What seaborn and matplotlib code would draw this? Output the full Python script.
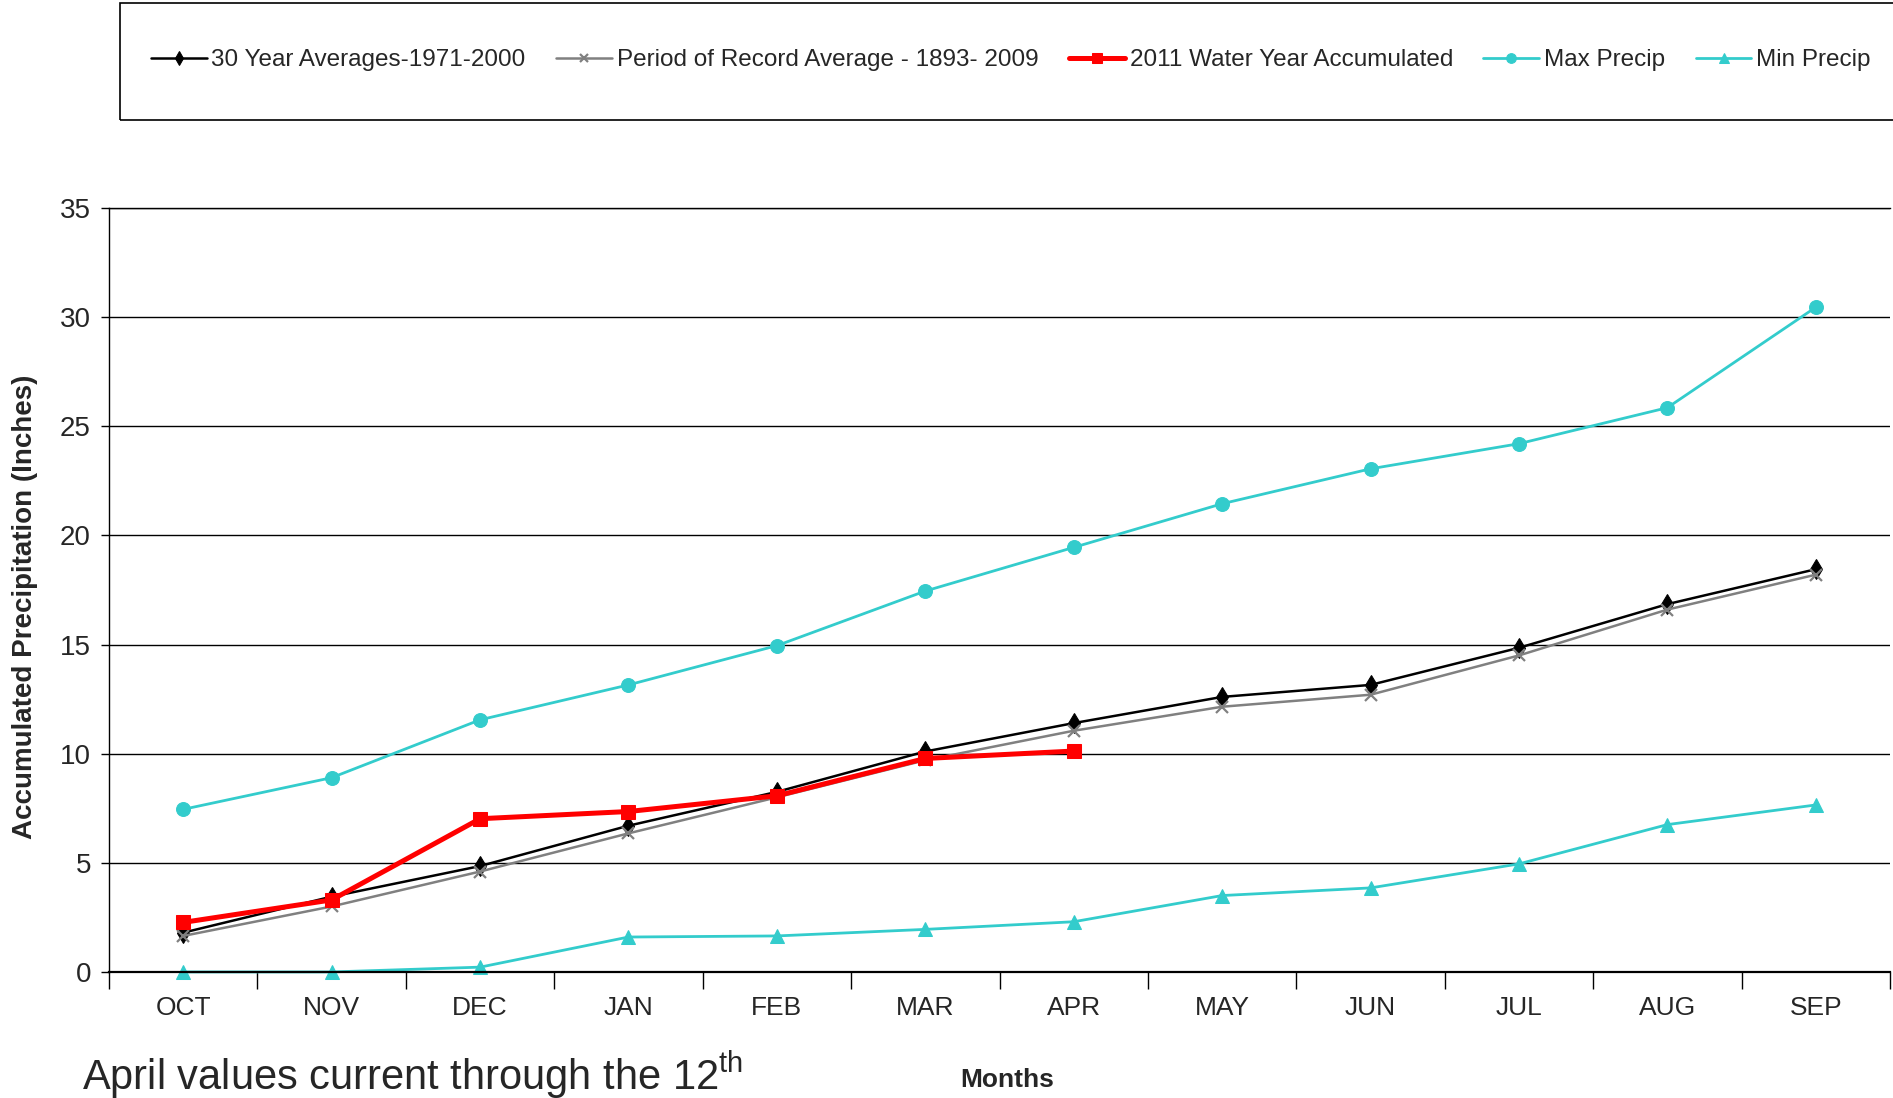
import matplotlib
matplotlib.use('Agg')
import matplotlib.pyplot as plt
from matplotlib import font_manager
from matplotlib.patches import Rectangle
import pandas as pd
import seaborn as sns

# Months of the water year
months = ['OCT', 'NOV', 'DEC', 'JAN', 'FEB', 'MAR', 'APR', 'MAY', 'JUN', 'JUL', 'AUG', 'SEP']

# Accumulated precipitation (inches)
avg_30yr = [1.8, 3.45, 4.85, 6.7, 8.25, 10.1, 11.4, 12.6, 13.15, 14.85, 16.85, 18.45]
period_record = [1.65, 3.0, 4.6, 6.35, 8.0, 9.7, 11.05, 12.15, 12.7, 14.5, 16.6, 18.2]
wy_2011 = [2.27, 3.3, 7.02, 7.35, 8.07, 9.78, 10.12]
max_precip = [7.45, 8.9, 11.55, 13.15, 14.95, 17.45, 19.45, 21.45, 23.05, 24.2, 25.85, 30.45]
min_precip = [0.0, 0.0, 0.22, 1.6, 1.65, 1.95, 2.3, 3.5, 3.85, 4.95, 6.75, 7.65]

labels = ['30 Year Averages-1971-2000', 'Period of Record Average - 1893- 2009',
          '2011 Water Year Accumulated', 'Max Precip', 'Min Precip']


# Pick the first font that is installed
def pick_font(names):
    for n in names:
        try:
            font_manager.findfont(n, fallback_to_default=False)
            return n
        except Exception:
            pass
    return 'DejaVu Sans'


sns.set_style('white')
main_font = pick_font(['Liberation Sans', 'Arial'])
plt.rcParams['font.family'] = [main_font, 'DejaVu Sans']
plt.rcParams['mathtext.fontset'] = 'custom'
plt.rcParams['mathtext.rm'] = main_font
plt.rcParams['mathtext.default'] = 'rm'

df = pd.DataFrame({'Month': months, 'avg': avg_30yr, 'por': period_record,
                   'max': max_precip, 'min': min_precip})
df_2011 = pd.DataFrame({'Month': months[:len(wy_2011)], 'wy': wy_2011})

fig = plt.figure(figsize=(18.93, 10.98), dpi=100)
ax = fig.add_axes([0.0576, 0.1148, 0.9408, 0.6958])

cyan = '#33CCCC'
sns.lineplot(data=df, x='Month', y='avg', sort=False, color='black', lw=1.8,
             marker='d', markersize=10, markeredgecolor='black', ax=ax, label=labels[0])
sns.lineplot(data=df, x='Month', y='por', sort=False, color='#808080', lw=1.8,
             marker='x', markersize=9, markeredgewidth=1.6, markeredgecolor='#808080', ax=ax, label=labels[1])
sns.lineplot(data=df_2011, x='Month', y='wy', sort=False, color='#FF0000', lw=3.6,
             marker='s', markersize=10, markeredgecolor='#FF0000', ax=ax, label=labels[2])
sns.lineplot(data=df, x='Month', y='max', sort=False, color=cyan, lw=2,
             marker='o', markersize=10, markeredgecolor=cyan, ax=ax, label=labels[3])
sns.lineplot(data=df, x='Month', y='min', sort=False, color=cyan, lw=2,
             marker='^', markersize=10, markeredgecolor=cyan, ax=ax, label=labels[4])
# let the markers sitting on zero show in full
for line in ax.get_lines():
    line.set_clip_on(False)

# Axes limits, ticks and grid
ax.set_xlim(-0.5, len(months) - 0.5)
ax.set_ylim(0, 35)
ax.set_yticks(range(0, 36, 5))
ax.set_xticks(range(len(months)))
ax.set_xticklabels(months)
ax.set_xticks([i - 0.5 for i in range(len(months) + 1)], minor=True)
ax.tick_params(axis='x', which='major', length=0, pad=17, labelsize=19)
ax.tick_params(axis='x', which='minor', length=12, width=1, direction='out', color='black', bottom=True)
ax.tick_params(axis='y', length=6, width=1, direction='out', color='black', left=True, labelsize=20, pad=7)
ax.grid(axis='y', color='black', lw=1)
ax.set_axisbelow(True)
for side in ['left', 'bottom', 'top']:
    ax.spines[side].set_color('black')
    ax.spines[side].set_linewidth(1)
ax.spines['right'].set_visible(False)
ax.spines['bottom'].set_linewidth(1.6)

ax.set_xlabel('')
ax.set_ylabel('Accumulated Precipitation (Inches)', fontsize=20, fontweight='bold')
ax.yaxis.set_label_coords(-0.04, 0.478)

# Legend sits in its own box above the chart
handles, lbls = ax.get_legend_handles_labels()
ax.legend(handles, lbls, ncol=5, frameon=False, loc='center left',
          bbox_to_anchor=(0.068, 0.945), bbox_transform=fig.transFigure,
          prop={'size': 17.5}, handlelength=2.3,
          handletextpad=0.2, columnspacing=1.25, markerscale=0.7)
fig.patches.append(Rectangle((0.0634, 0.8907), 0.96, 0.107, transform=fig.transFigure,
                             fill=False, edgecolor='black', lw=1.2))

# Footnote and x label
fig.text(0.0433, -0.003, 'April values current through the 12$^{th}$', fontsize=30,
         ha='left', va='bottom')
fig.text(0.532, 0.01, 'Months', fontsize=19, fontweight='bold', ha='center', va='baseline')

plt.savefig('out.png', dpi=100)
